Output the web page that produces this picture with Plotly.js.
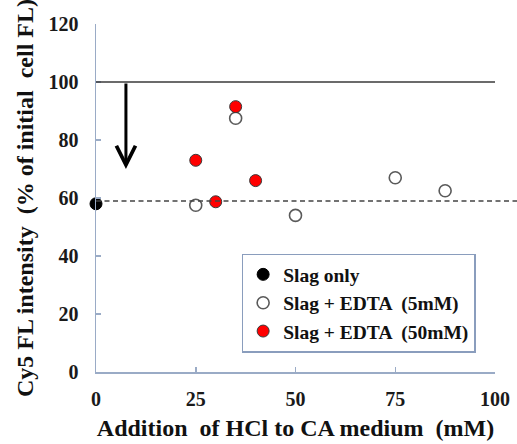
<!DOCTYPE html>
<html><head><meta charset="utf-8">
<script src="https://cdn.plot.ly/plotly-3.0.1.min.js"></script>
<style>html,body{margin:0;padding:0;background:#fff}#chart{width:517px;height:444px}</style>
</head><body><div id="chart"></div>
<script>
// Data
const slagOnlyX = [0];
const slagOnlyY = [58];
const edta5X = [25, 35, 50, 75, 87.5];
const edta5Y = [57.5, 87.5, 54, 67, 62.5];
const edta50X = [25, 30, 35, 40];
const edta50Y = [73, 58.7, 91.5, 66];
const seriesNames = ['Slag only', 'Slag + EDTA  (5mM)', 'Slag + EDTA  (50mM)'];
const xTicks = [0, 25, 50, 75, 100];
const yTicks = [0, 20, 40, 60, 80, 100, 120];
const refLevel = 100;      // initial level
const slagLevel = 59;      // dashed reference level
const arrowX = 7.5, arrowFrom = 100, arrowTo = 70;

const serif = '"Liberation Serif", "Times New Roman", Times, serif';
const axisCol = '#9aabc6';

const traces = [
  {x: slagOnlyX, y: slagOnlyY, name: seriesNames[0], type: 'scatter', mode: 'markers', cliponaxis: false,
   marker: {size: 12, color: '#000000', line: {color: '#000000', width: 1}}},
  {x: edta5X, y: edta5Y, name: seriesNames[1], type: 'scatter', mode: 'markers', cliponaxis: false,
   marker: {size: 12, color: '#ffffff', line: {color: '#5a5a5a', width: 1.6}}},
  {x: edta50X, y: edta50Y, name: seriesNames[2], type: 'scatter', mode: 'markers', cliponaxis: false,
   marker: {size: 12, color: '#ff0000', line: {color: '#3a3a3a', width: 1}}}
];

const layout = {
  width: 517, height: 444,
  margin: {l: 96, r: 22, t: 24, b: 72},
  paper_bgcolor: '#ffffff', plot_bgcolor: '#ffffff',
  font: {family: serif, size: 17, color: '#1a1a1a', weight: 'bold'},
  showlegend: true,
  legend: {x: 0.365, y: 0.34, xanchor: 'left', yanchor: 'top',
    bordercolor: '#8a9dbd', borderwidth: 1.5, bgcolor: '#ffffff',
    font: {family: serif, size: 19.5, color: '#111', weight: 'bold'},
    tracegroupgap: 0, itemwidth: 30},
  xaxis: {range: [0, 100], tickvals: xTicks, ticktext: xTicks.map(String),
    showgrid: false, zeroline: false, showline: true, linecolor: axisCol, linewidth: 1.5,
    ticks: 'inside', ticklen: 5, tickcolor: axisCol, tickwidth: 1.5,
    tickfont: {family: serif, size: 20, color: '#1a1a1a', weight: 'bold'},
    ticklabelstandoff: 8,
    title: {text: 'Addition  of HCl to CA medium  (mM)', font: {family: serif, size: 24, color: '#111', weight: 'bold'}, standoff: 10}},
  yaxis: {range: [0, 120], tickvals: yTicks, ticktext: yTicks.map(String),
    showgrid: false, zeroline: false, showline: true, linecolor: axisCol, linewidth: 1.5,
    ticks: 'inside', ticklen: 5, tickcolor: axisCol, tickwidth: 1.5,
    tickfont: {family: serif, size: 20, color: '#1a1a1a', weight: 'bold'},
    ticklabelstandoff: 12,
    title: {text: 'Cy5 FL intensity  (% of initial  cell FL)', font: {family: serif, size: 24, color: '#111', weight: 'bold'}, standoff: 8}},
  shapes: [
    {type: 'line', xref: 'x', yref: 'y', x0: 0, x1: 100, y0: refLevel, y1: refLevel,
     line: {color: '#3a3a3a', width: 1.5}},
    {type: 'line', xref: 'paper', yref: 'y', x0: 0, x1: 1.06, y0: slagLevel, y1: slagLevel,
     line: {color: '#444444', width: 1.5, dash: '5px,3.5px'}}
  ],
  annotations: [
    {x: arrowX, y: arrowTo, ax: arrowX, ay: arrowFrom, xref: 'x', yref: 'y', axref: 'x', ayref: 'y',
     text: '', showarrow: true, arrowhead: 5, arrowsize: 1.25, arrowwidth: 3, arrowcolor: '#000000'}
  ]
};

Plotly.newPlot('chart', traces, layout, {displayModeBar: false, staticPlot: true});
</script>
</body></html>
